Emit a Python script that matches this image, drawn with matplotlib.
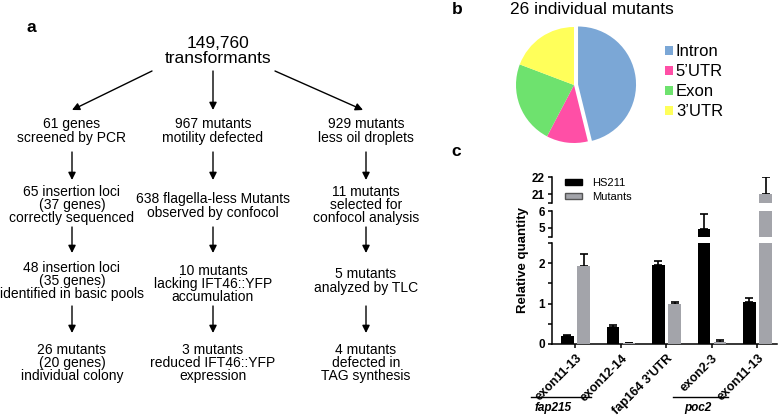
import numpy as np
import matplotlib
matplotlib.use('agg')
import matplotlib.pyplot as plt
from matplotlib.patches import Patch

plt.rcParams['font.family'] = ['Liberation Sans', 'DejaVu Sans']

# ---- panel a: screening flow ----
top_text = "149,760\ntransformants"
col_x = [72, 213, 366]
row_y = [[131, 131, 131], [205, 206, 205], [281, 284, 281], [363, 363, 363]]
flow_text = [
    ["61 genes\nscreened by PCR", "967 mutants\nmotility defected", "929 mutants\nless oil droplets"],
    ["65 insertion loci\n(37 genes)\ncorrectly sequenced", "638 flagella-less Mutants\nobserved by confocol",
     "11 mutants\nselected for\nconfocol analysis"],
    ["48 insertion loci\n(35 genes)\nidentified in basic pools", "10 mutants\nlacking IFT46::YFP\naccumulation",
     "5 mutants\nanalyzed by TLC"],
    ["26 mutants\n(20 genes)\nindividual colony", "3 mutants\nreduced IFT46::YFP\nexpression",
     "4 mutants\ndefected in\nTAG synthesis"],
]
arrow_rows = [(152, 180), (227, 253), (306, 333)]

# ---- panel b: insertion sites ----
pie_labels = ['Intron', "5\u2019UTR", 'Exon', "3\u2019UTR"]
pie_counts = [12, 3, 6, 5]
pie_colors = ['#7ba7d6', '#ff4fa6', '#6ee26e', '#ffff5a']

# ---- panel c: qPCR ----
groups = ['exon11-13', 'exon12-14', "fap164 3'UTR", 'exon2-3', 'exon11-13']
hs211 = [0.20, 0.43, 1.95, 4.95, 1.05]
hs211_err = [0.02, 0.03, 0.10, 0.87, 0.08]
mutants = [1.93, 0.02, 0.99, 0.05, 21.0]
mutants_err = [0.30, 0.0, 0.04, 0.06, 1.0]

W, H = 784, 416
fig = plt.figure(figsize=(W / 100, H / 100), dpi=100)

ax0 = fig.add_axes([0, 0, 1, 1])
ax0.set_xlim(0, W)
ax0.set_ylim(H, 0)
ax0.axis('off')

ax0.text(218, 51, top_text, ha='center', va='center', fontsize=12.5, linespacing=0.95)
for r in range(4):
    for c in range(3):
        ax0.text(col_x[c], row_y[r][c], flow_text[r][c], ha='center', va='center',
                 fontsize=10, linespacing=0.95)

arw = dict(arrowstyle='-|>', color='k', lw=1, mutation_scale=11, shrinkA=0, shrinkB=0)
ax0.annotate('', xy=(72, 110), xytext=(152, 71), arrowprops=arw)
ax0.annotate('', xy=(213, 110), xytext=(213, 71), arrowprops=arw)
ax0.annotate('', xy=(363, 110), xytext=(275, 71), arrowprops=arw)
for y1, y2 in arrow_rows:
    for x in col_x:
        ax0.annotate('', xy=(x, y2), xytext=(x, y1), arrowprops=arw)

for lbl, x, y in [('a', 31, 27), ('b', 457, 9), ('c', 456, 151)]:
    ax0.text(x, y, lbl, ha='center', va='center', fontsize=12.5, fontweight='bold')

# pie
R = 58
cx, cy = 574, 85
s = R * 1.15
axp = fig.add_axes([(cx - s) / W, (H - cy - s) / H, 2 * s / W, 2 * s / H])
wedges, _ = axp.pie(pie_counts, colors=pie_colors, startangle=90, counterclock=False,
                    explode=[0.07, 0, 0, 0], wedgeprops=dict(linewidth=0))
axp.set_xlim(-1.15, 1.15)
axp.set_ylim(-1.15, 1.15)
axp.set_aspect('equal')
ax0.text(592, 9, '26 individual mutants', ha='center', va='center', fontsize=12.5)
fig.legend(wedges, pie_labels, loc='upper left', bbox_to_anchor=(665 / W, 1 - 44 / H),
           frameon=False, fontsize=12, handlelength=0.45, handleheight=0.45,
           handletextpad=0.2, labelspacing=0.3, borderpad=0, borderaxespad=0)

# broken-axis bar chart
x = np.arange(len(groups))
bw = 0.275
off = 0.18
grey = '#a3a4aa'
xl = (-0.516, 4.43)
x0, xw = 552 / W, (777 - 552) / W
segs = [(243, 344, (0, 2.5)), (211, 236.5, (4.5, 6)), (177, 202.5, (20.5, 22))]
axes = []
for top_px, bot_px, lim in segs:
    ax = fig.add_axes([x0, (H - bot_px) / H, xw, (bot_px - top_px) / H])
    ax.bar(x - off, hs211, bw, color='k', zorder=3)
    ax.bar(x + off, mutants, bw, color=grey, zorder=3)
    ax.errorbar(x - off, hs211, yerr=[np.zeros(5), hs211_err], fmt='none', ecolor='k',
                elinewidth=1.2, capsize=3, capthick=1.2, zorder=2)
    ax.errorbar(x + off, mutants, yerr=[np.zeros(5), mutants_err], fmt='none', ecolor='k',
                elinewidth=1.2, capsize=3, capthick=1.2, zorder=2)
    ax.set_xlim(*xl)
    ax.set_ylim(*lim)
    for sp in ['top', 'right']:
        ax.spines[sp].set_visible(False)
    ax.spines['left'].set_linewidth(1.1)
    ax.spines['bottom'].set_linewidth(1.1)
    ax.tick_params(axis='y', length=3, width=1.1, pad=2, labelsize=8.5)
    ax.patch.set_visible(False)
    axes.append(ax)

axb, axm, axt = axes
axb.set_yticks([0, 0.5, 1, 1.5, 2, 2.5])
axb.set_yticklabels(['0', '', '1', '', '2', ''], fontweight='bold')
axm.set_yticks([4.5, 5, 6])
axm.set_yticklabels(['', '5', '6'], fontweight='bold')
axt.set_yticks([20.5, 21, 22])
axt.set_yticklabels(['', '21', '22'], fontweight='bold')
for ax in (axm, axt):
    ax.spines['bottom'].set_visible(False)
    ax.set_xticks([])
axb.set_xticks(x)
axb.set_xticklabels(groups, rotation=45, ha='right', va='top', rotation_mode='anchor',
                    fontsize=9, fontweight='bold')
axb.tick_params(axis='x', length=3, width=1.1, pad=3)

fig.text(523 / W, 1 - 260 / H, 'Relative quantity', rotation=90, ha='center', va='center',
         fontsize=9.5, fontweight='bold')

leg_handles = [Patch(facecolor='k', edgecolor='k'), Patch(facecolor=grey, edgecolor='#555555')]
fig.legend(leg_handles, ['HS211', 'Mutants'], loc='upper left', bbox_to_anchor=(565 / W, 1 - 178 / H),
           frameon=False, fontsize=8, handlelength=1.5, handleheight=0.55, handletextpad=0.9,
           labelspacing=0.35, borderpad=0, borderaxespad=0)

# gene brackets under labels
ax0.plot([531, 591], [397, 397], color='k', lw=1)
ax0.plot([673, 728], [397, 397], color='k', lw=1)
ax0.text(553, 408, 'fap215', ha='center', va='center', fontsize=8.5, fontweight='bold', style='italic')
ax0.text(698, 408, 'poc2', ha='center', va='center', fontsize=8.5, fontweight='bold', style='italic')

fig.savefig('out.png', dpi=100)
